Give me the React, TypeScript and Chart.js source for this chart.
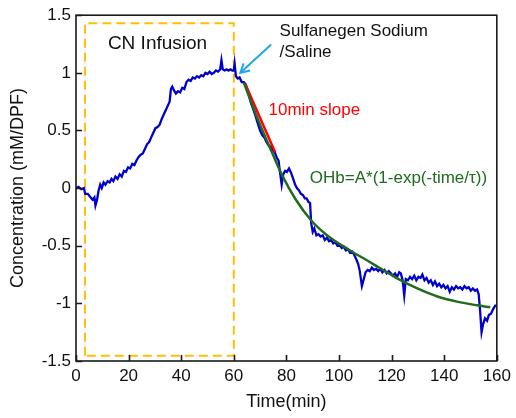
import React, { useEffect, useRef } from 'react';
import { Chart, registerables } from 'chart.js';

Chart.register(...registerables);

const xTicks = [0, 20, 40, 60, 80, 100, 120, 140, 160];
const xTickLabels = ['0', '20', '40', '60', '80', '100', '120', '140', '160'];
const yTicks = [-1.5, -1, -0.5, 0, 0.5, 1, 1.5];
const yTickLabels = ['-1.5', '-1', '-0.5', '0', '0.5', '1', '1.5'];

// Measured OHb concentration (blue trace)
const ohbTime = [
  0, 1, 2, 3, 3.5, 4.5, 5.5, 6.3, 7.0, 7.4, 8.0, 8.6, 9.2, 9.8, 10.5, 11.2, 12, 12.8, 13.5, 14.2,
  15, 15.8, 16.6, 17.4, 18.2, 19, 19.8, 20.6, 21.4, 22.2, 23, 23.8, 24.6, 25.4, 26.2, 27, 27.8, 28.6, 29.4, 30.2,
  31, 31.8, 32.6, 33.4, 34.2, 35, 35.6, 36.1, 36.6, 37.2, 38, 38.8, 39.6, 40.4, 41.2, 42, 42.8, 43.6, 44.4, 45.2,
  46, 46.8, 47.6, 48.4, 49.2, 50, 50.8, 51.6, 52.4, 53.2, 54, 54.8, 55.3, 55.8, 56.5, 57.3, 58, 58.7, 59.4, 60,
  60.3, 60.8, 61.5, 62.2, 63, 63.8, 64.5, 65.5, 66.5, 67.3, 68.2, 69, 70, 70.8, 71.6, 72.4, 73.2, 74, 74.8, 75.6,
  76.4, 77, 77.5, 78.2, 78.8, 79.5, 80.2, 81, 81.8, 82.6, 83.3, 84, 84.8, 85.5, 86.3, 87, 87.7, 88.4, 89, 89.4,
  90, 90.6, 91.4, 92.2, 93, 93.8, 94.6, 95.4, 96.2, 97, 97.8, 98.6, 99.4, 100.2, 101, 101.8, 102.6, 103.4, 104.2, 105,
  105.8, 106.6, 107.3, 107.9, 108.7, 109.3, 110.1, 110.9, 111.7, 112.5, 113.3, 114.1, 114.9, 115.7, 116.5, 117.3, 118.1, 118.9, 119.7, 120.5,
  121.3, 122.1, 122.9, 123.5, 124.2, 124.8, 125.4, 126.2, 127, 127.8, 128.6, 129.4, 130.2, 131, 131.7, 132.5, 133.3, 134.1, 134.9, 135.7,
  136.5, 137.3, 138.1, 138.9, 139.7, 140.5, 141.3, 142.1, 142.9, 143.7, 144.5, 145.3, 146.1, 146.9, 147.7, 148.5, 149.3, 150.1, 150.9, 151.7,
  152.5, 153.1, 153.6, 154.2, 154.8, 155.5, 156.3, 157, 157.8, 158.6, 159.4, 160,
];
const ohbValue = [
  0.00, 0.01, -0.01, 0.00, -0.05, -0.05, -0.08, -0.10, -0.08, -0.15, -0.10, -0.02, 0.03, 0.00, 0.05, 0.03, 0.06, 0.05, 0.08, 0.06,
  0.10, 0.08, 0.12, 0.10, 0.15, 0.14, 0.18, 0.17, 0.21, 0.20, 0.24, 0.27, 0.29, 0.30, 0.34, 0.38, 0.40, 0.44, 0.48, 0.52,
  0.53, 0.55, 0.60, 0.64, 0.68, 0.72, 0.75, 0.86, 0.88, 0.85, 0.82, 0.84, 0.83, 0.87, 0.86, 0.92, 0.94, 0.93, 0.96, 0.95,
  0.97, 0.96, 0.98, 0.97, 1.00, 0.99, 1.01, 0.99, 1.00, 1.02, 1.01, 1.03, 1.11, 1.03, 1.02, 1.03, 1.02, 1.03, 1.02, 1.02,
  1.08, 0.97, 0.95, 0.96, 0.92, 0.92, 0.90, 0.83, 0.74, 0.69, 0.63, 0.57, 0.50, 0.46, 0.44, 0.40, 0.37, 0.36, 0.33, 0.31,
  0.26, 0.24, 0.15, 0.03, 0.12, 0.15, 0.14, 0.17, 0.13, 0.08, 0.03, 0.00, -0.02, -0.05, -0.06, -0.09, -0.09, -0.12, -0.13, -0.30,
  -0.38, -0.35, -0.41, -0.40, -0.42, -0.41, -0.45, -0.43, -0.46, -0.45, -0.48, -0.47, -0.50, -0.49, -0.52, -0.51, -0.54, -0.53, -0.56, -0.55,
  -0.58, -0.62, -0.66, -0.72, -0.85, -0.80, -0.73, -0.71, -0.72, -0.69, -0.71, -0.70, -0.72, -0.70, -0.73, -0.71, -0.74, -0.72, -0.74, -0.76,
  -0.74, -0.77, -0.73, -0.74, -0.80, -0.93, -0.79, -0.80, -0.77, -0.79, -0.76, -0.80, -0.77, -0.78, -0.75, -0.80, -0.78, -0.82, -0.80, -0.84,
  -0.81, -0.85, -0.83, -0.86, -0.84, -0.87, -0.85, -0.90, -0.86, -0.88, -0.85, -0.87, -0.86, -0.88, -0.85, -0.87, -0.86, -0.89, -0.87, -0.89,
  -0.88, -0.92, -1.05, -1.25, -1.18, -1.13, -1.15, -1.10, -1.09, -1.05, -1.02, -1.02,
];

// Exponential fit (green)
const fitTime = [63.8, 67, 70.7, 74.5, 78.2, 83.3, 89.6, 95.8, 103.4, 110.9, 116, 122.3, 129.8, 137.4, 144.9, 152.5, 157.5];
const fitValue = [0.915, 0.72, 0.51, 0.31, 0.12, -0.09, -0.285, -0.415, -0.53, -0.63, -0.70, -0.785, -0.87, -0.94, -0.985, -1.017, -1.034];

// 10 min slope (red)
const slopeTime = [64.4, 75.7];
const slopeValue = [0.9, 0.31];

// CN infusion window (orange dashed box)
const boxTime = [3.4, 3.4, 60, 60, 3.4];
const boxValue = [-1.455, 1.43, 1.43, -1.455, -1.455];

// Injection arrow (cyan)
const arrowTime = [74.2, 62.5];
const arrowValue = [1.245, 1.0];

const zip = (xs: number[], ys: number[]) => xs.map((x, i) => ({ x, y: ys[i] }));

const FONT = "'Liberation Sans', Arial, sans-serif";

const annotations = [
  { text: 'CN Infusion', x: 31, y: 1.25, color: '#111', size: 19, align: 'center' },
  { text: 'Sulfanegen Sodium', x: 77.4, y: 1.36, color: '#111', size: 17, align: 'left' },
  { text: '/Saline', x: 77.4, y: 1.18, color: '#111', size: 17, align: 'left' },
  { text: '10min slope', x: 73.2, y: 0.675, color: '#ff0000', size: 17, align: 'left' },
  { text: 'OHb=A*(1-exp(-time/\u03c4))', x: 88.9, y: 0.084, color: '#1f6b1f', size: 17, align: 'left' },
];

const decorPlugin = {
  id: 'decor',
  afterDatasetsDraw(chart: any) {
    const { ctx, chartArea, scales } = chart;
    const { left, right, top, bottom } = chartArea;
    const xs = scales.x;
    const ys = scales.y;
    ctx.save();
    // arrow head
    const tx = xs.getPixelForValue(arrowTime[1]);
    const ty = ys.getPixelForValue(arrowValue[1]);
    const sx = xs.getPixelForValue(arrowTime[0]);
    const sy = ys.getPixelForValue(arrowValue[0]);
    const ang = Math.atan2(sy - ty, sx - tx);
    ctx.strokeStyle = '#1fa8e6';
    ctx.lineWidth = 2;
    ctx.beginPath();
    ctx.moveTo(tx + 10 * Math.cos(ang + 0.5), ty + 10 * Math.sin(ang + 0.5));
    ctx.lineTo(tx, ty);
    ctx.lineTo(tx + 10 * Math.cos(ang - 0.5), ty + 10 * Math.sin(ang - 0.5));
    ctx.stroke();

    // frame
    ctx.strokeStyle = '#1a1a1a';
    ctx.lineWidth = 1.6;
    ctx.strokeRect(left, top, right - left, bottom - top);
    // inward ticks
    ctx.beginPath();
    xTicks.forEach((v) => {
      const px = Math.round(xs.getPixelForValue(v)) + 0.5;
      ctx.moveTo(px, bottom);
      ctx.lineTo(px, bottom - 6);
    });
    yTicks.forEach((v) => {
      const py = Math.round(ys.getPixelForValue(v)) + 0.5;
      ctx.moveTo(left, py);
      ctx.lineTo(left + 6, py);
    });
    ctx.stroke();

    // text annotations
    ctx.textBaseline = 'middle';
    annotations.forEach((a) => {
      ctx.font = `${a.size}px ${FONT}`;
      ctx.fillStyle = a.color;
      ctx.textAlign = a.align as CanvasTextAlign;
      ctx.fillText(a.text, xs.getPixelForValue(a.x), ys.getPixelForValue(a.y));
    });
    ctx.restore();
  },
};

export default function App() {
  const ref = useRef<HTMLCanvasElement | null>(null);
  useEffect(() => {
    if (!ref.current) return;
    const chart = new Chart(ref.current, {
      type: 'line',
      data: {
        datasets: [
          {
            data: zip(fitTime, fitValue),
            borderColor: '#1f6b1f',
            borderWidth: 2.5,
            pointRadius: 0,
            cubicInterpolationMode: 'monotone',
            order: 0,
          },
          {
            data: zip(slopeTime, slopeValue),
            borderColor: '#ff0000',
            borderWidth: 2.5,
            pointRadius: 0,
            order: 1,
          },
          {
            data: zip(arrowTime, arrowValue),
            borderColor: '#1fa8e6',
            borderWidth: 2,
            pointRadius: 0,
            order: 2,
          },
          {
            data: zip(ohbTime, ohbValue),
            borderColor: '#0000cc',
            borderWidth: 2.3,
            pointRadius: 0,
            tension: 0,
            order: 3,
          },
          {
            data: zip(boxTime, boxValue),
            borderColor: '#ffc000',
            borderWidth: 2,
            borderDash: [9, 5],
            pointRadius: 0,
            tension: 0,
            order: 4,
          },
        ],
      } as any,
      options: {
        animation: false,
        responsive: false,
        events: [],
        layout: { padding: { left: 0, top: 12, right: 16, bottom: 0 } },
        plugins: { legend: { display: false }, tooltip: { enabled: false } },
        scales: {
          x: {
            type: 'linear',
            min: 0,
            max: 160,
            afterBuildTicks: (s: any) => {
              s.ticks = xTicks.map((v) => ({ value: v }));
            },
            afterFit: (s: any) => {
              s.height = 57;
            },
            grid: { display: false, drawTicks: false },
            border: { display: false },
            ticks: {
              color: '#111',
              font: { family: FONT, size: 17 },
              padding: 5,
              maxRotation: 0,
              autoSkip: false,
              callback: (v: any) => xTickLabels[xTicks.indexOf(Number(v))] ?? '',
            },
            title: {
              display: true,
              text: 'Time(min)',
              color: '#111',
              font: { family: FONT, size: 18 },
              padding: { top: 0, bottom: 5 },
            },
          },
          y: {
            type: 'linear',
            min: -1.5,
            max: 1.5,
            afterBuildTicks: (s: any) => {
              s.ticks = yTicks.map((v) => ({ value: v }));
            },
            afterFit: (s: any) => {
              s.width = 76;
            },
            grid: { display: false, drawTicks: false },
            border: { display: false },
            ticks: {
              color: '#111',
              font: { family: FONT, size: 17 },
              padding: 5,
              autoSkip: false,
              callback: (v: any) => yTickLabels[yTicks.indexOf(Number(v))] ?? '',
            },
            title: {
              display: true,
              text: 'Concentration (mM/DPF)',
              color: '#111',
              font: { family: FONT, size: 18 },
              padding: { top: 7, bottom: 0 },
            },
          },
        },
      },
      plugins: [decorPlugin],
    } as any);
    return () => chart.destroy();
  }, []);
  return (
    <div style={{ position: 'fixed', left: 0, top: 0, width: 516, height: 418, background: '#fff' }}>
      <canvas ref={ref} width={516} height={418} style={{ display: 'block', width: 516, height: 418 }} />
    </div>
  );
}
